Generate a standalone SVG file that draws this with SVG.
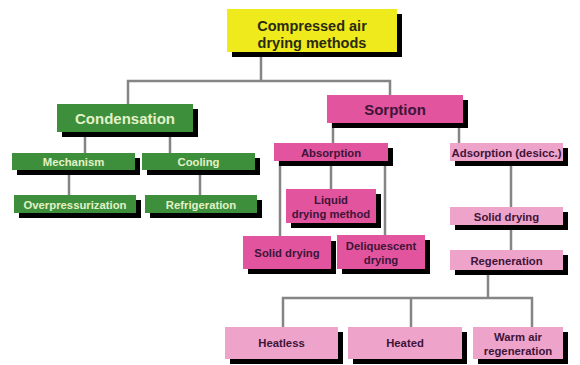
<svg xmlns="http://www.w3.org/2000/svg" width="580" height="365" viewBox="0 0 580 365">
<defs>
<filter id="ds" x="-5%" y="-5%" width="120%" height="140%">
<feOffset in="SourceAlpha" dx="5" dy="5" result="o"/>
<feMerge><feMergeNode in="o"/><feMergeNode in="SourceGraphic"/></feMerge>
</filter>
</defs>
<style>
.y{fill:#eeea1c}
.g{fill:#3e8f3b}
.m{fill:#e2559e}
.p{fill:#eea3cb}
.f{filter:url(#ds)}
text{font-family:"Liberation Sans",Arial,sans-serif;font-weight:bold;text-anchor:middle}
.tk{fill:#2a2a10;font-size:14.5px}
.tg{fill:#e2f2c8}
.tp{fill:#3e1438}
.big{font-size:15px}
.sm{font-size:11.3px}
.c{stroke:#858585;stroke-width:2.5;fill:none}
</style>
<rect x="0" y="0" width="580" height="365" fill="#ffffff"/>
<g id="connectors">
<path class="c" d="M261 52V81M128 104V81H390V95"/>
<path class="c" d="M85 132V153M170 132V153M69 170V195M200 170V195"/>
<path class="c" d="M333 123V143M459 123V143"/>
<path class="c" d="M280 161V236M331 161V189M385 161V235"/>
<path class="c" d="M511 161V207M511 225V250"/>
<path class="c" d="M488 270V298M283 327V298H532V327M411 298V327"/>
</g>
<g id="root">
<rect class="y f" x="227" y="9" width="170" height="43"/>
<text class="tk" x="312" y="31">Compressed air</text>
<text class="tk" x="312" y="48">drying methods</text>
</g>
<g id="condensation">
<rect class="g f" x="57" y="104" width="136" height="28"/>
<text class="tg big" x="125" y="124">Condensation</text>
</g>
<g id="mechanism">
<rect class="g f" x="12" y="153" width="123" height="17"/>
<text class="tg sm" x="73.5" y="165.5">Mechanism</text>
</g>
<g id="cooling">
<rect class="g f" x="142" y="153" width="113" height="17"/>
<text class="tg sm" x="198.5" y="165.5">Cooling</text>
</g>
<g id="overpressurization">
<rect class="g f" x="14" y="195" width="122" height="18"/>
<text class="tg sm" x="75" y="208.5">Overpressurization</text>
</g>
<g id="refrigeration">
<rect class="g f" x="145" y="195" width="112" height="18"/>
<text class="tg sm" x="201" y="208.5">Refrigeration</text>
</g>
<g id="sorption">
<rect class="m f" x="327" y="95" width="136" height="28"/>
<text class="tp big" x="395" y="114.5">Sorption</text>
</g>
<g id="absorption">
<rect class="m f" x="274" y="143" width="114" height="18"/>
<text class="tp sm" x="331" y="156.5">Absorption</text>
</g>
<g id="adsorption">
<rect class="p f" x="450" y="143" width="113" height="18"/>
<text class="tp sm" x="506.5" y="156.5" textLength="110" lengthAdjust="spacingAndGlyphs">Adsorption (desicc.)</text>
</g>
<g id="liquid">
<rect class="m f" x="286" y="189" width="90" height="34"/>
<text class="tp sm" x="331" y="203.5">Liquid</text>
<text class="tp sm" x="331" y="218">drying method</text>
</g>
<g id="solid-left">
<rect class="m f" x="243" y="236" width="88" height="33"/>
<text class="tp sm" x="287" y="256.5">Solid drying</text>
</g>
<g id="deliquescent">
<rect class="m f" x="337" y="235" width="88" height="34"/>
<text class="tp sm" x="381" y="249.5">Deliquescent</text>
<text class="tp sm" x="381" y="264">drying</text>
</g>
<g id="solid-right">
<rect class="p f" x="450" y="207" width="113" height="18"/>
<text class="tp sm" x="506.5" y="220.5">Solid drying</text>
</g>
<g id="regeneration">
<rect class="p f" x="450" y="250" width="113" height="20"/>
<text class="tp sm" x="506.5" y="264.5">Regeneration</text>
</g>
<g id="heatless">
<rect class="p f" x="225" y="327" width="113" height="32"/>
<text class="tp sm" x="281.5" y="347">Heatless</text>
</g>
<g id="heated">
<rect class="p f" x="348" y="327" width="114" height="32"/>
<text class="tp sm" x="405" y="347">Heated</text>
</g>
<g id="warm-air">
<rect class="p f" x="473" y="327" width="90" height="32"/>
<text class="tp sm" x="518" y="341">Warm air</text>
<text class="tp sm" x="518" y="355">regeneration</text>
</g>
</svg>
